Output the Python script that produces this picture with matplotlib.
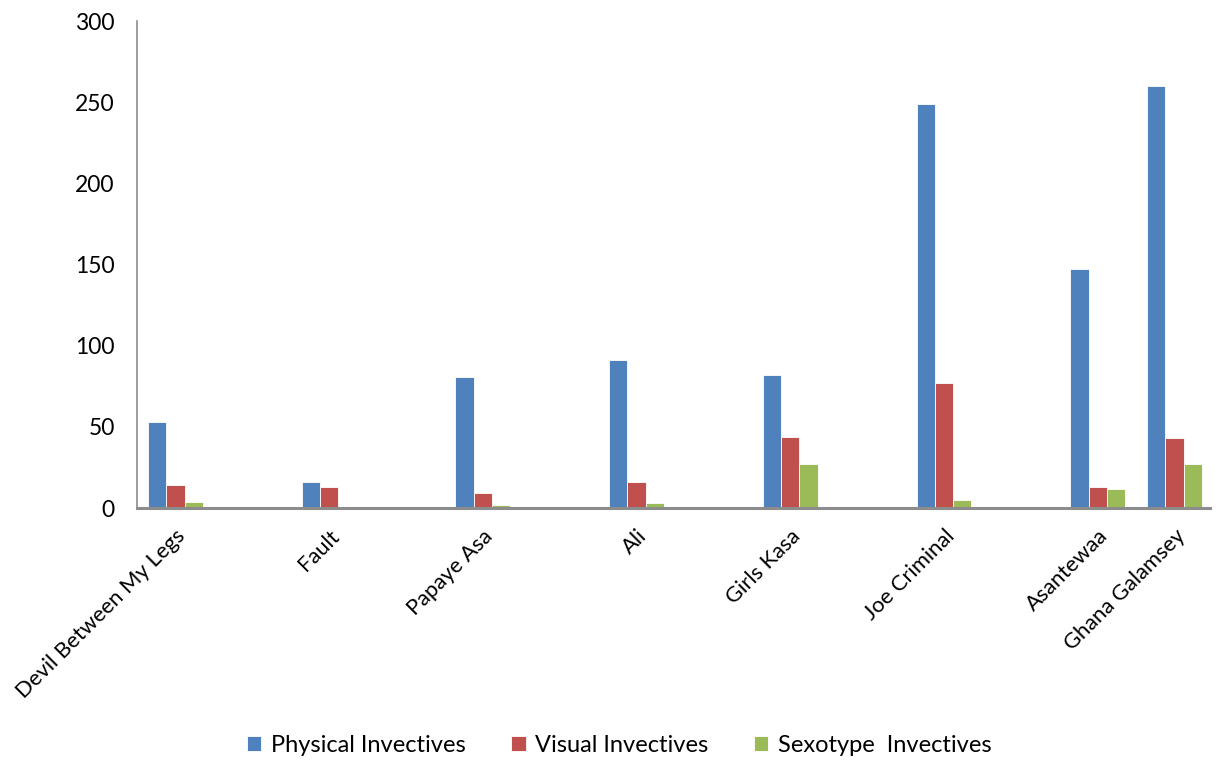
import numpy as np
import matplotlib.pyplot as plt

plt.rcParams['font.family'] = ['Lato', 'DejaVu Sans']

films = ['Devil Between My Legs', 'Fault', 'Papaye Asa', 'Ali', 'Girls Kasa',
         'Joe Criminal', 'Asantewaa', 'Ghana Galamsey']
physical = [53, 16, 81, 91, 82, 249, 147, 260]
visual = [14, 13, 9, 16, 44, 77, 13, 43]
sexotype = [4, 0, 2, 3, 27, 5, 12, 27]

series = [('Physical Invectives', physical, '#4F81BD'),
          ('Visual Invectives', visual, '#C0504D'),
          ('Sexotype  Invectives', sexotype, '#9BBB59')]

# group centres; the last group sits half a slot after the previous one
x = np.array([0, 1, 2, 3, 4, 5, 6, 6.5])
w = 0.119

fig = plt.figure(figsize=(12.19, 7.62), dpi=100)
ax = fig.add_axes([0.1124, 0.3333, 0.8802, 0.6391])

for i, (name, vals, col) in enumerate(series):
    ax.bar(x + (i - 1) * w, vals, w, color=col, edgecolor='white',
           linewidth=0.6, label=name, zorder=2)

ax.set_ylim(0, 300)
ax.set_xlim(-0.25, 6.73)
ax.set_yticks(range(0, 301, 50))
ax.tick_params(axis='y', length=0, pad=16, labelsize=16.5)
ax.tick_params(axis='x', length=0, pad=13)
ax.set_xticks(x)
ax.set_xticklabels(films, rotation=45, ha='right', va='top',
                   rotation_mode='anchor', fontsize=15.8)

for s in ['top', 'right']:
    ax.spines[s].set_visible(False)
ax.spines['left'].set_color('#8c8c8c')
ax.spines['left'].set_linewidth(1.2)
ax.spines['bottom'].set_color('#8c8c8c')
ax.spines['bottom'].set_linewidth(2.2)

fig.legend(loc='center', bbox_to_anchor=(0.508, 0.022), ncol=3, frameon=False,
           fontsize=17, handlelength=0.6, handleheight=0.6, handletextpad=0.4,
           columnspacing=1.95)

fig.savefig('out.png', dpi=100)
